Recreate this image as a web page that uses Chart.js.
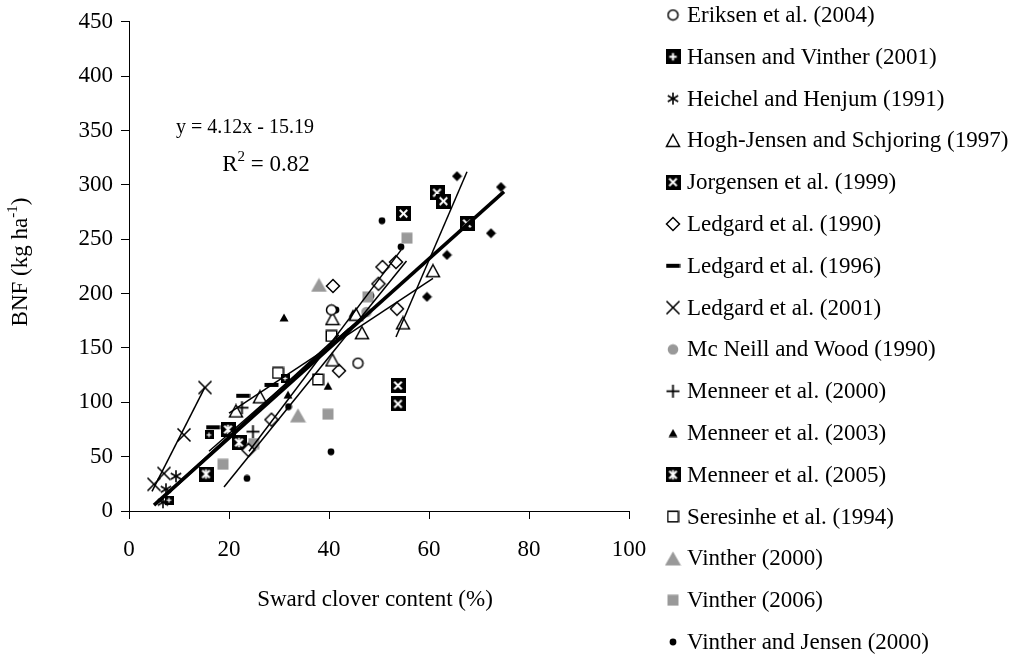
<!DOCTYPE html>
<html><head><meta charset="utf-8">
<script src="https://cdn.jsdelivr.net/npm/chart.js@4/dist/chart.umd.min.js"></script>
<style>html,body{margin:0;padding:0;background:#fff}#wrap{width:1018px;height:657px}</style>
</head><body><div id="wrap"><canvas id="c" width="1018" height="657"></canvas></div>
<script>
const FONT = '"Liberation Serif","Times New Roman",serif';

// ---- data ----
const seriesNames = ["Eriksen et al. (2004)","Hansen and Vinther (2001)","Heichel and Henjum (1991)","Hogh-Jensen and Schjoring (1997)","Jorgensen et al. (1999)","Ledgard et al. (1990)","Ledgard et al. (1996)","Ledgard et al. (2001)","Mc Neill and Wood (1990)","Menneer et al. (2000)","Menneer et al. (2003)","Menneer et al. (2005)","Seresinhe et al. (1994)","Vinther (2000)","Vinther (2006)","Vinther and Jensen (2000)"];
const eriksen = [[40.5,185],[45.8,136]];
const hansenVinther = [[8,10],[16,70],[31.2,122]];
const heichel = [[9.4,32],[6.8,8],[7.4,20]];
const hoghJensen = [[21.4,92],[26.2,105],[40.7,139],[40.7,177],[45.4,181],[46.6,164],[54.8,173],[60.8,221]];
const jorgensen = [[53.8,115.5],[53.8,98.5],[54.9,273.6],[61.6,292.7],[62.9,285],[67.6,264.5]];
const ledgard1990 = [[23.9,56],[28.5,84],[42,129],[40.8,207],[49.9,209],[50.7,224.5],[53.4,229],[53.6,186]];
const ledgard1996 = [[16.8,77],[22.8,106],[28.5,116]];
const ledgard2001 = [[5,24.5],[7,34.5],[11,70],[15.2,113.6]];
const mcneill = [[47.5,183],[24.5,60]];
const menneer2000 = [[22.6,95],[24.8,73]];
const menneer2003 = [[31,178],[39.8,115],[44.8,182],[31.8,107]];
const menneer2005 = [[15.4,34],[19.8,75],[22,63]];
const seresinhe = [[29.8,127],[37.8,121],[40.5,161]];
const vinther2000 = [[38,208],[33.8,88]];
const vinther2006 = [[18.8,43],[25,62],[39.8,89],[47.8,197],[55.6,251]];
const vintherJensen = [[23.6,30],[40.4,54.5],[31.9,96],[37.8,123],[41.4,185],[48.4,198],[50.6,267],[54.4,243]];
const otherDiamonds = [[59.6,197],[63.6,235.5],[65.6,308],[72.4,255.5],[74.4,298]];
// regression / trend lines (end points)
const mainFit = [[5,5.4],[75,293.8]];
const fitLedgard2001 = [[4.6,18],[15.2,114]];
const fitSteep = [[53.4,160],[67.6,312]];
const fitVJ = [[19,22],[55.5,230]];
const fitLedgard1990 = [[24,55],[54.4,240]];
const fitHogh = [[20,90],[60.8,214]];
const fitBand = [[6,8],[44,168]];
const fitBand2 = [[7,14],[42,162]];
const fitBand3 = [[16,55],[47,180]];
const xTickStep = 20, yTickStep = 50;
const equationText = "y = 4.12x - 15.19";
const r2Value = "0.82";

// ---- markers ----
function mk(w,h,draw){const c=document.createElement('canvas');c.width=w;c.height=h;const g=c.getContext('2d');draw(g,w,h);return c;}
const GREY='#999999';
function line(g,a,b,c,d){g.beginPath();g.moveTo(a,b);g.lineTo(c,d);g.stroke();}
function boxed(size,kind){return mk(size,size,(g,w)=>{g.fillStyle='#000';g.fillRect(0,0,w,w);g.strokeStyle='#fff';g.lineWidth=w>11?2:1.2;const m=w*0.25;
 if(kind==='plus'){line(g,w/2,m,w/2,w-m);line(g,m,w/2,w-m,w/2);}
 else {line(g,m,m,w-m,w-m);line(g,w-m,m,m,w-m); if(kind==='star'){line(g,w/2,m-1,w/2,w-m+1);}}});}
const M = {
 openCircle: mk(13,13,g=>{g.beginPath();g.arc(6.5,6.5,5,0,2*Math.PI);g.fillStyle='#fff';g.fill();g.lineWidth=1.5;g.strokeStyle='#000';g.stroke();}),
 boxPlusSmall: boxed(9,'plus'),
 boxPlus: boxed(15,'plus'),
 asterisk: mk(14,14,g=>{g.strokeStyle='#000';g.lineWidth=1.6;line(g,7,1,7,13);line(g,1.8,4,12.2,10);line(g,12.2,4,1.8,10);}),
 openTri: mk(16,15,g=>{g.beginPath();g.moveTo(8,1.5);g.lineTo(14.5,13.5);g.lineTo(1.5,13.5);g.closePath();g.fillStyle='#fff';g.fill();g.lineWidth=1.5;g.strokeStyle='#000';g.stroke();}),
 boxX: boxed(15,'x'),
 openDiamond: mk(16,16,g=>{g.beginPath();g.moveTo(8,1.5);g.lineTo(14.5,8);g.lineTo(8,14.5);g.lineTo(1.5,8);g.closePath();g.fillStyle='#fff';g.fill();g.lineWidth=1.5;g.strokeStyle='#000';g.stroke();}),
 dash: mk(15,6,g=>{g.fillStyle='#000';g.fillRect(0.5,1,14,4);}),
 crossX: mk(16,16,g=>{g.strokeStyle='#000';g.lineWidth=1.6;line(g,1.5,1.5,14.5,14.5);line(g,14.5,1.5,1.5,14.5);}),
 greyCircle: mk(12,12,g=>{g.beginPath();g.arc(6,6,5.3,0,2*Math.PI);g.fillStyle=GREY;g.fill();}),
 plus: mk(15,15,g=>{g.strokeStyle='#000';g.lineWidth=1.8;line(g,7.5,1,7.5,14);line(g,1,7.5,14,7.5);}),
 smallTri: mk(10,9,g=>{g.beginPath();g.moveTo(5,0.5);g.lineTo(9.5,8.5);g.lineTo(0.5,8.5);g.closePath();g.fillStyle='#000';g.fill();}),
 boxStar: boxed(15,'star'),
 openSquare: mk(13,13,g=>{g.fillStyle='#fff';g.fillRect(1,1,11,11);g.lineWidth=1.5;g.strokeStyle='#000';g.strokeRect(1.25,1.25,10.5,10.5);}),
 greyTri: mk(17,15,g=>{g.beginPath();g.moveTo(8.5,0.5);g.lineTo(16.5,14.5);g.lineTo(0.5,14.5);g.closePath();g.fillStyle=GREY;g.fill();}),
 greySquare: mk(12,12,g=>{g.fillStyle=GREY;g.fillRect(0.5,0.5,11,11);}),
 blackDot: mk(8,8,g=>{g.beginPath();g.arc(4,4,3.4,0,2*Math.PI);g.fillStyle='#000';g.fill();}),
 blackDiamond: mk(11,11,g=>{g.beginPath();g.moveTo(5.5,0.5);g.lineTo(10.5,5.5);g.lineTo(5.5,10.5);g.lineTo(0.5,5.5);g.closePath();g.fillStyle='#000';g.fill();}),
};

const toXY = a => a.map(p => ({x:p[0], y:p[1]}));
const pointSeries = [
 [eriksen, M.openCircle, M.openCircle],
 [hansenVinther, M.boxPlusSmall, M.boxPlus],
 [heichel, M.asterisk, M.asterisk],
 [hoghJensen, M.openTri, M.openTri],
 [jorgensen, M.boxX, M.boxX],
 [ledgard1990, M.openDiamond, M.openDiamond],
 [ledgard1996, M.dash, M.dash],
 [ledgard2001, M.crossX, M.crossX],
 [mcneill, M.greyCircle, M.greyCircle],
 [menneer2000, M.plus, M.plus],
 [menneer2003, M.smallTri, M.smallTri],
 [menneer2005, M.boxStar, M.boxStar],
 [seresinhe, M.openSquare, M.openSquare],
 [vinther2000, M.greyTri, M.greyTri],
 [vinther2006, M.greySquare, M.greySquare],
 [vintherJensen, M.blackDot, M.blackDot],
];
const datasets = pointSeries.map((s,i) => ({
 label: seriesNames[i], data: toXY(s[0]), pointStyle: s[1], legendMarker: s[2],
 showLine:false, order: 2
}));
datasets.push({label:'_other', data: toXY(otherDiamonds), pointStyle: M.blackDiamond, showLine:false, order:2});
const thinLines = [fitLedgard2001, fitSteep, fitVJ, fitLedgard1990, fitHogh, fitBand, fitBand2, fitBand3];
thinLines.forEach((l,i)=>datasets.push({label:'_fit'+i, data: toXY(l), showLine:true, pointRadius:0, borderColor:'#000', borderWidth:1.5, order:1}));
datasets.push({label:'_main', data: toXY(mainFit), showLine:true, pointRadius:0, borderColor:'#000', borderWidth:3.5, order:0});

function drawSup(ctx, parts, x, y, align){
 const big = '23px '+FONT, small = '15px '+FONT;
 let total = 0;
 parts.forEach(p=>{ctx.font = p[1]?small:big; total += ctx.measureText(p[0]).width;});
 let cx = align==='center' ? x - total/2 : x;
 ctx.textBaseline='middle'; ctx.textAlign='left';
 parts.forEach(p=>{ctx.font = p[1]?small:big; ctx.fillText(p[0], cx, p[1]? y-8 : y); cx += ctx.measureText(p[0]).width;});
}

const decor = {
 id:'decor',
 afterDraw(chart){
  const ctx = chart.ctx; ctx.save(); ctx.fillStyle='#000';
  ctx.font='20px '+FONT; ctx.textAlign='center'; ctx.textBaseline='middle';
  ctx.fillText(equationText, 245, 128);
  drawSup(ctx, [['R',false],['2',true],[' = '+r2Value,false]], 266, 165, 'center');
  ctx.font='23px '+FONT; ctx.textAlign='center'; ctx.textBaseline='middle';
  ctx.fillText('Sward clover content (%)', 375, 600);
  ctx.save(); ctx.translate(21, 262); ctx.rotate(-Math.PI/2);
  drawSup(ctx, [['BNF (kg ha',false],['-1',true],[')',false]], 0, 0, 'center');
  ctx.restore();
  chart.data.datasets.forEach((ds,i)=>{
   if(!ds.legendMarker) return;
   const y = 15 + 41.8*i;
   const img = ds.legendMarker;
   ctx.drawImage(img, 673 - img.width/2, y - img.height/2);
   ctx.font='23px '+FONT; ctx.textAlign='left'; ctx.textBaseline='middle';
   ctx.fillText(ds.label, 687, y+1);
  });
  ctx.restore();
 }
};

new Chart(document.getElementById('c'), {
 type:'scatter',
 data:{datasets},
 options:{
  responsive:false, animation:false, devicePixelRatio:1,
  layout:{padding:{left:0,right:389,top:16,bottom:0}},
  plugins:{legend:{display:false}, tooltip:{enabled:false}},
  scales:{
   x:{type:'linear', min:0, max:100, afterFit(s){s.height=146;},
      ticks:{stepSize:xTickStep, font:{family:FONT,size:23}, color:'#000', padding:17},
      grid:{display:true, drawOnChartArea:false, drawTicks:true, tickLength:8, color:'#000'},
      border:{display:true, color:'#000', width:1}},
   y:{type:'linear', min:0, max:450, afterFit(s){s.width=129;},
      ticks:{stepSize:yTickStep, font:{family:FONT,size:23}, color:'#000', padding:8},
      grid:{display:true, drawOnChartArea:false, drawTicks:true, tickLength:8, color:'#000'},
      border:{display:true, color:'#000', width:1}}
  }
 },
 plugins:[decor]
});
</script></body></html>
